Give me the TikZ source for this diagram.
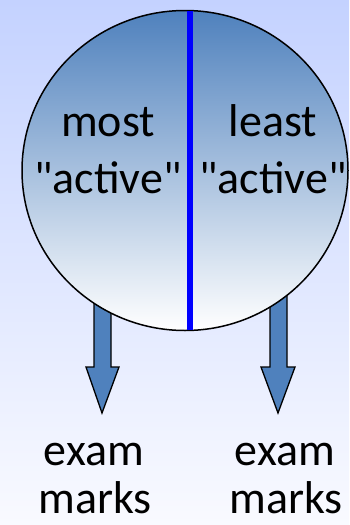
\documentclass[tikz,border=0pt]{standalone}
\usepackage{fontspec}
\setmainfont{Carlito}
\usetikzlibrary{positioning}
\definecolor{PoolBlue}{RGB}{79,129,189}
\definecolor{BackTop}{RGB}{196,210,255}
\definecolor{BackBottom}{RGB}{249,250,255}

\begin{document}
\begin{tikzpicture}[x=1pt, y=-1pt,
	word/.style={font=\fontsize{46}{54}\selectfont, anchor=base, inner sep=0pt},
	blockarrow/.style={draw=black, line width=1.3pt, fill=PoolBlue, line join=miter}]
	\useasboundingbox (0,0) rectangle (349,525);
	\shade[top color=BackTop, bottom color=BackBottom] (0,0) rectangle (349,525);
	% arrows leaving the pool
	\draw[blockarrow] (94,290) -- (94,367) -- (86,367) -- (102,413) -- (119,367) -- (111,367) -- (111,290);
	\draw[blockarrow] (270,290) -- (270,367) -- (261,367) -- (278,413) -- (295,367) -- (287,367) -- (287,290);
	% pool
	\shade[top color=PoolBlue, bottom color=white, draw=black, line width=1.5pt] (185,170.5) ellipse (163 and 160);
	\coordinate (divtop) at (190,11);
	\coordinate (divbot) at (190,330);
	\draw[blue, line width=6pt] (divtop) -- (divbot);
	\node[word] (most) at (108,136) {most};
	\node[word] (mostq) at (108,193) {\textquotedbl active\textquotedbl};
	\node[word] (least) at (273,136) {least};
	\node[word] (leastq) at (273,193) {\textquotedbl active\textquotedbl};
	\node[word] (examL) at (94,465) {exam};
	\node[word] (marksL) at (95,513) {marks};
	\node[word] (examR) at (285,465) {exam};
	\node[word] (marksR) at (286,513) {marks};
\end{tikzpicture}
\end{document}
